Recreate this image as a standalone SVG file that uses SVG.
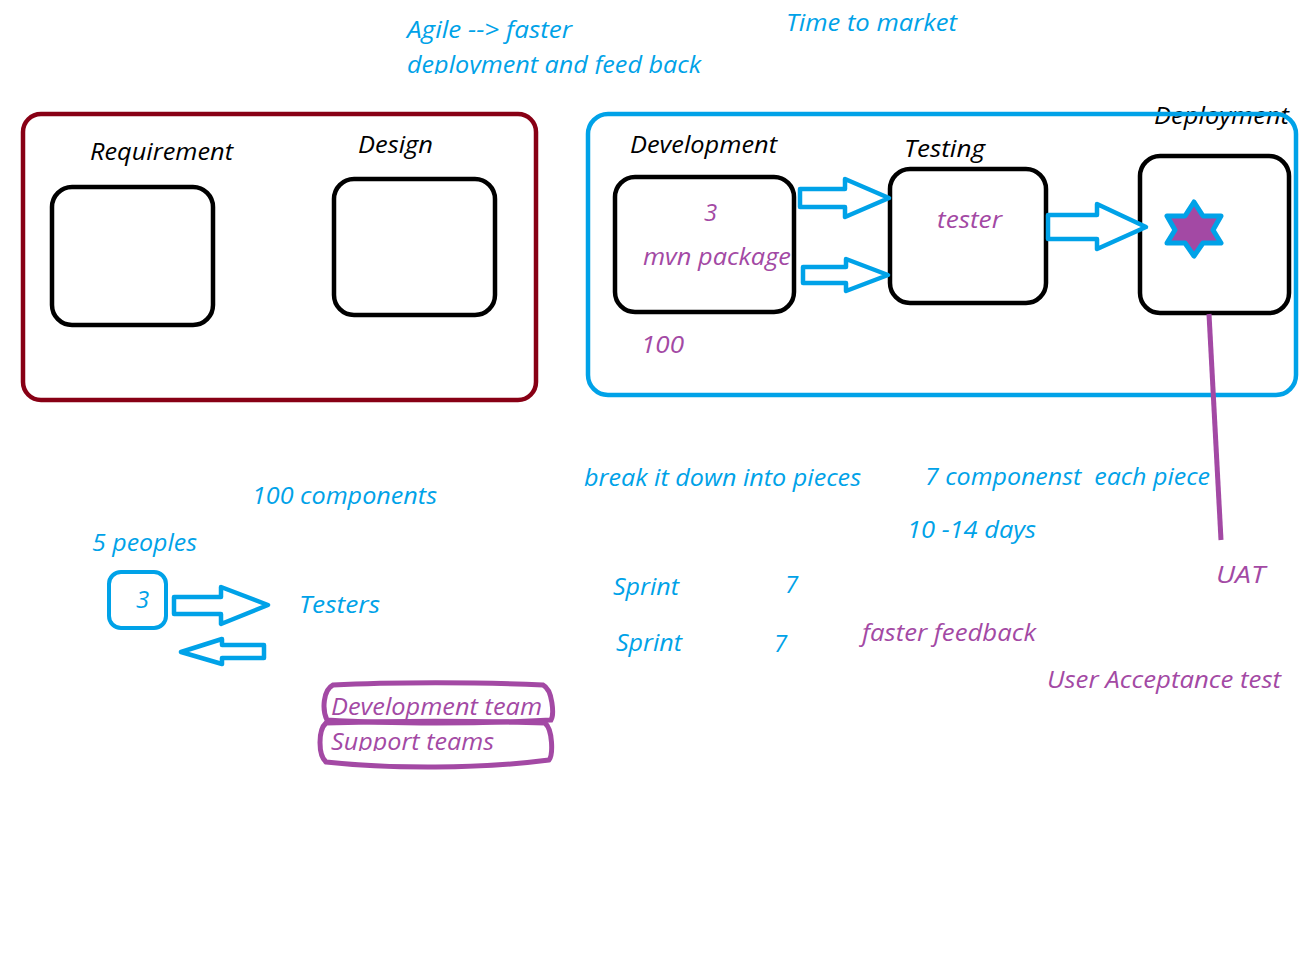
<svg xmlns="http://www.w3.org/2000/svg" width="1300" height="975" viewBox="0 0 1300 975">
<style>
text{font-family:"Open Sans","Noto Sans","Liberation Sans",sans-serif;font-style:italic;font-size:24px;white-space:pre}
.k{fill:#000}.b{fill:#00a2e8}.p{fill:#a349a4}
.box{fill:none;stroke:#000;stroke-width:4.5}
.arr{fill:#fff;stroke:#00a2e8;stroke-width:4.5;stroke-linejoin:round}
</style>
<defs>
<clipPath id="c1"><rect x="400" y="40" width="320" height="34"/></clipPath>
<clipPath id="c2"><rect x="320" y="722" width="220" height="29"/></clipPath>
</defs>
<rect width="1300" height="975" fill="#fff"/>
<g id="agile-note"><text class="b" x="407" y="38" textLength="165" lengthAdjust="spacingAndGlyphs">Agile --&gt; faster</text><text class="b" x="407" y="73" textLength="294" lengthAdjust="spacingAndGlyphs" clip-path="url(#c1)">deployment and feed back</text></g>
<g id="time-to-market"><text class="b" x="786" y="31" textLength="171" lengthAdjust="spacingAndGlyphs">Time to market</text></g>
<g id="group-left"><rect x="23" y="114" width="513" height="286" rx="18" fill="none" stroke="#880015" stroke-width="4.5"/></g>
<g id="requirement"><text class="k" x="90" y="160" textLength="143" lengthAdjust="spacingAndGlyphs">Requirement</text><rect class="box" x="52" y="187" width="161" height="138" rx="20"/></g>
<g id="design"><text class="k" x="358" y="153" textLength="75" lengthAdjust="spacingAndGlyphs">Design</text><rect class="box" x="334" y="179" width="161" height="136" rx="20"/></g>
<g id="deployment-label"><text class="k" x="1154" y="124" textLength="135" lengthAdjust="spacingAndGlyphs">Deployment</text></g>
<g id="group-right"><rect x="588" y="114" width="708" height="281" rx="20" fill="none" stroke="#00a2e8" stroke-width="4.5"/></g>
<g id="development"><text class="k" x="630" y="153" textLength="147" lengthAdjust="spacingAndGlyphs">Development</text><rect class="box" x="615" y="177" width="179" height="135" rx="20"/><text class="p" x="704" y="221">3</text><text class="p" x="643" y="265" textLength="148" lengthAdjust="spacingAndGlyphs">mvn package</text><text class="p" x="641" y="353" textLength="43" lengthAdjust="spacingAndGlyphs">100</text></g>
<g id="testing"><text class="k" x="904" y="157" textLength="81" lengthAdjust="spacingAndGlyphs">Testing</text><rect class="box" x="890" y="169" width="156" height="134" rx="20"/><text class="p" x="937" y="228" textLength="65" lengthAdjust="spacingAndGlyphs">tester</text></g>
<g id="deployment"><rect class="box" x="1140" y="156" width="149" height="157" rx="20"/><polygon points="1194,202 1203,216 1221,216 1213,230 1221,243 1203,243 1194,256 1185,243 1167,243 1175,230 1167,216 1185,216" fill="#a349a4" stroke="#00a2e8" stroke-width="5" stroke-linejoin="round"/></g>
<g id="connectors">
<path class="arr" d="M800,189H845V179L889,198L845,217V207H800Z"/>
<path class="arr" d="M803,267H846V259L888,275L846,291V283H803Z"/>
<path class="arr" d="M1048,215H1097V204L1146,227L1097,249V239H1048Z"/>
<path d="M1209,314L1221,540" fill="none" stroke="#a349a4" stroke-width="5"/>
<path class="arr" d="M174,597H221V587L268,605L221,624V614H174Z"/>
<path class="arr" d="M264,645H222V639L181,652L222,664V658H264Z"/>
</g>
<g id="notes">
<text class="b" x="252" y="504" textLength="185" lengthAdjust="spacingAndGlyphs">100 components</text>
<text class="b" x="92" y="551" textLength="105" lengthAdjust="spacingAndGlyphs">5 peoples</text>
<text class="b" x="299" y="613" textLength="81" lengthAdjust="spacingAndGlyphs">Testers</text>
<text class="b" x="584" y="486" textLength="277" lengthAdjust="spacingAndGlyphs">break it down into pieces</text>
<text class="b" x="925" y="485" textLength="285" lengthAdjust="spacingAndGlyphs">7 componenst  each piece</text>
<text class="b" x="907" y="538" textLength="129" lengthAdjust="spacingAndGlyphs">10 -14 days</text>
<text class="b" x="613" y="595" textLength="66" lengthAdjust="spacingAndGlyphs">Sprint</text>
<text class="b" x="785" y="593">7</text>
<text class="b" x="616" y="651" textLength="66" lengthAdjust="spacingAndGlyphs">Sprint</text>
<text class="b" x="774" y="652">7</text>
<text class="p" x="862" y="641" textLength="174" lengthAdjust="spacingAndGlyphs">faster feedback</text>
<text class="p" x="1216" y="583" textLength="49" lengthAdjust="spacingAndGlyphs">UAT</text>
<text class="p" x="1047" y="688" textLength="234" lengthAdjust="spacingAndGlyphs">User Acceptance test</text>
</g>
<g id="three"><rect x="109" y="572" width="57" height="56" rx="12" fill="none" stroke="#00a2e8" stroke-width="4"/><text class="b" x="136" y="608">3</text></g>
<g id="development-team"><text class="p" x="331" y="715" textLength="211" lengthAdjust="spacingAndGlyphs">Development team</text><path d="M333,685C390,682 480,682 543,685C553,690 554,715 551,720C480,724 390,724 327,720C322,710 323,690 333,685Z" fill="none" stroke="#a349a4" stroke-width="5"/></g>
<g id="support-teams"><text class="p" x="331" y="750" textLength="163" lengthAdjust="spacingAndGlyphs" clip-path="url(#c2)">Support teams</text><path d="M326,723C390,721 480,721 545,723C553,730 553,755 549,760C480,769 390,769 326,762C318,755 318,730 326,723Z" fill="none" stroke="#a349a4" stroke-width="5"/></g>
</svg>
